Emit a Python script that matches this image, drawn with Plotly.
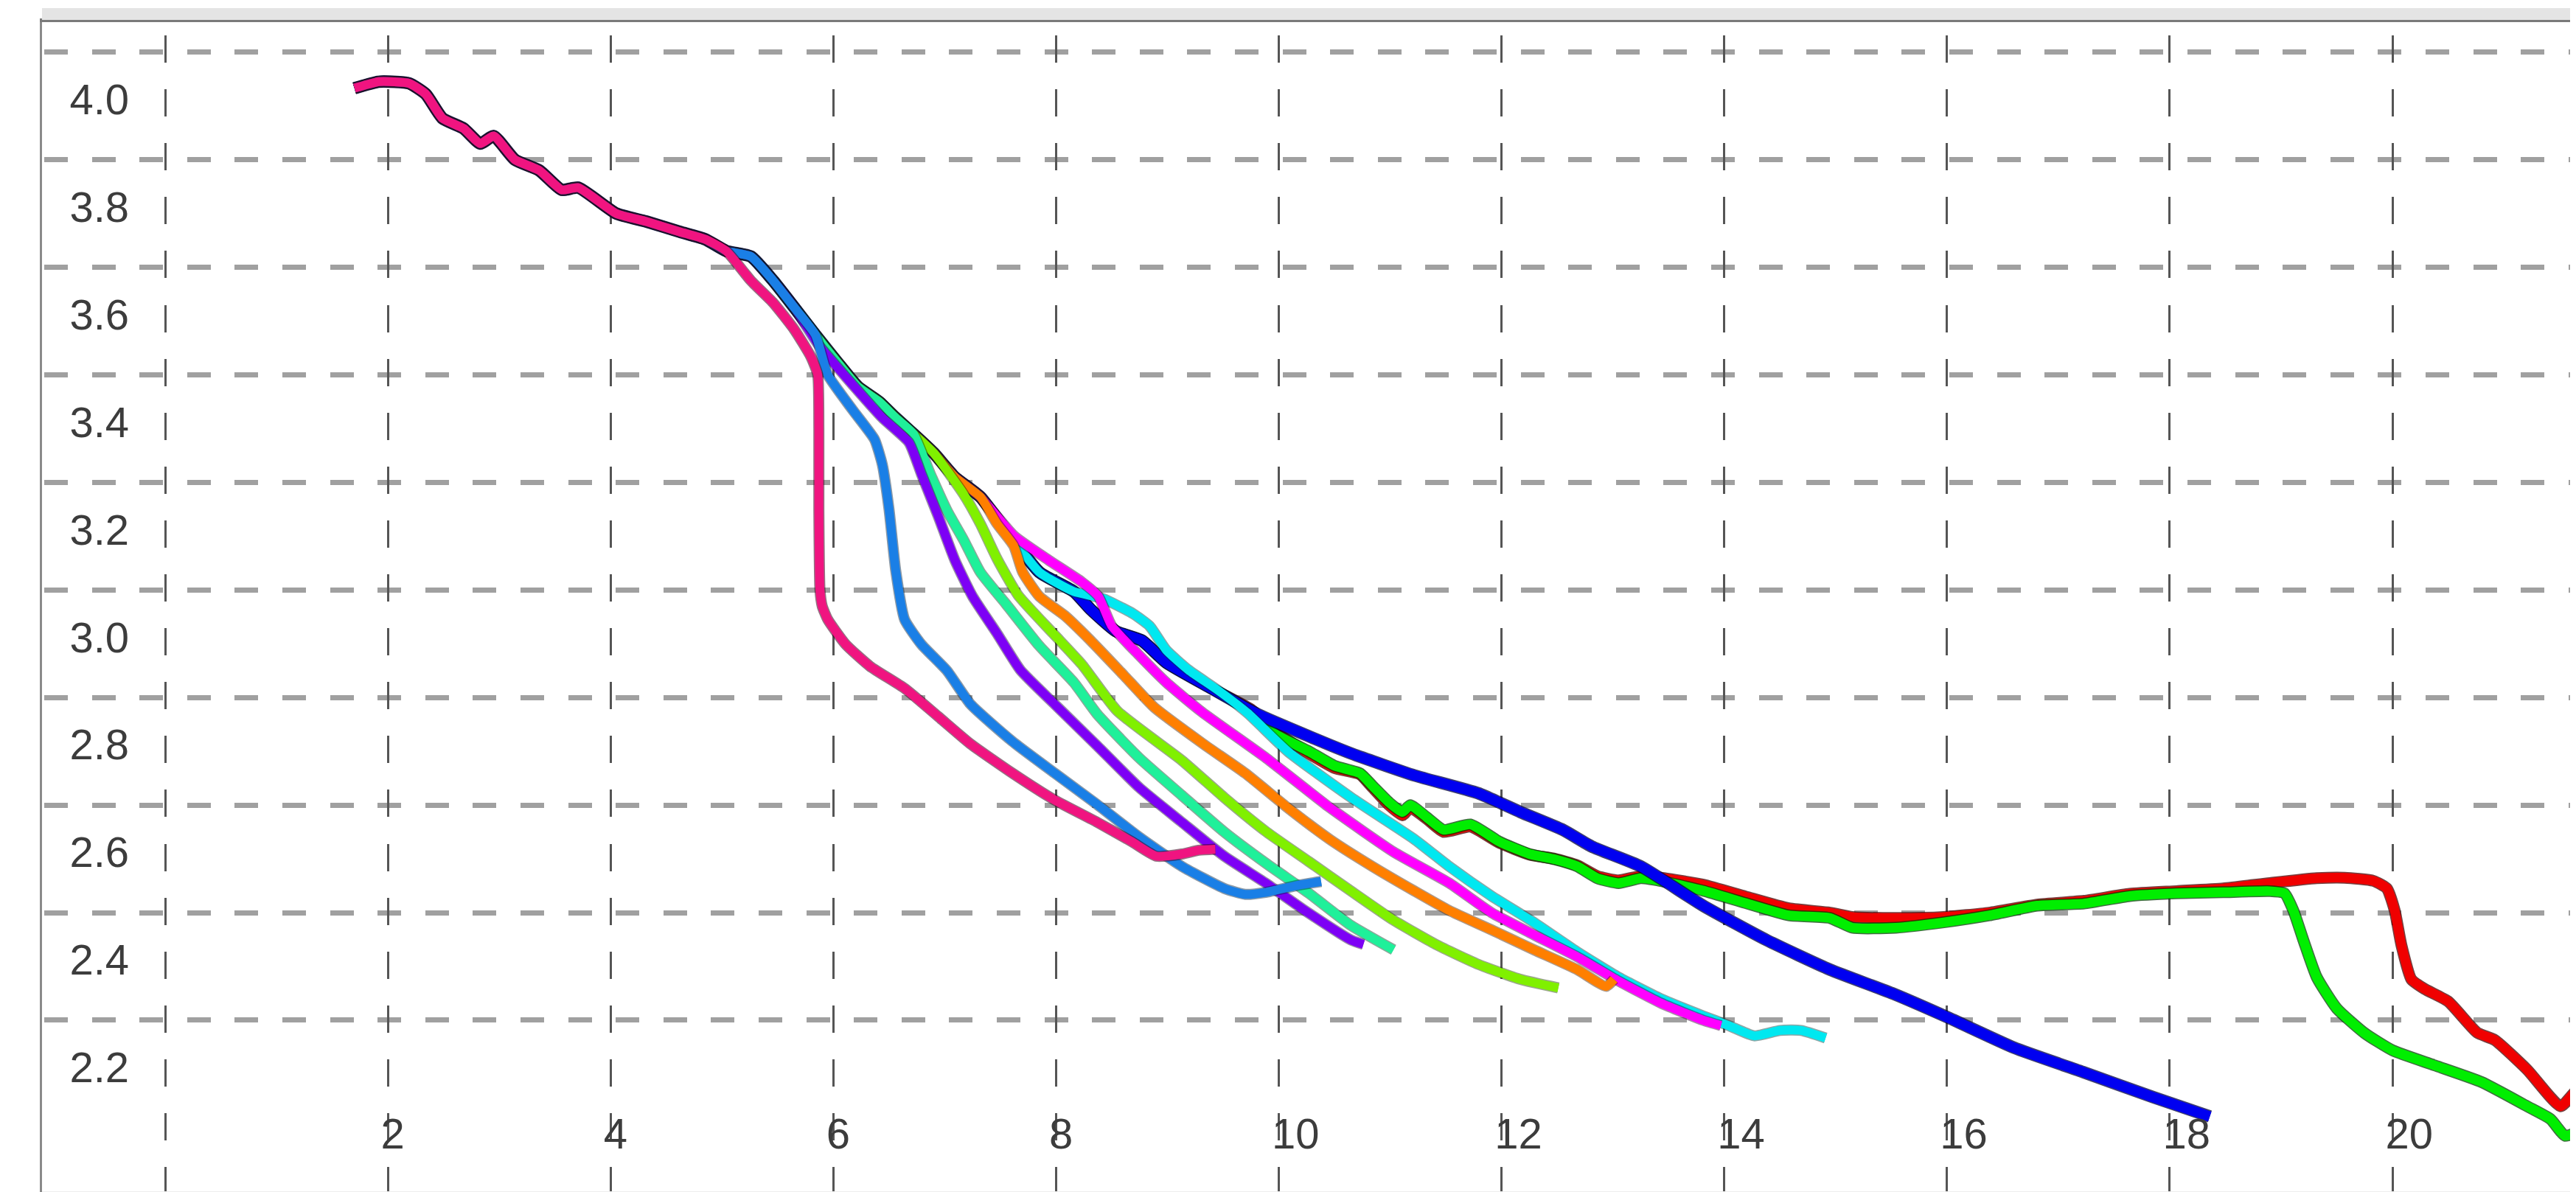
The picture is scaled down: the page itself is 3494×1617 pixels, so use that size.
import plotly.graph_objects as go

# ---------------- data ----------------
# shared start of every curve
common_x = [1.70, 1.92, 2.19, 2.34, 2.49, 2.68, 2.83, 2.95, 3.14, 3.36, 3.56, 3.71, 4.05, 4.32, 4.62, 4.85, 5.04]
common_y = [4.033, 4.045, 4.042, 4.022, 3.977, 3.958, 3.930, 3.944, 3.900, 3.880, 3.844, 3.848, 3.800, 3.785, 3.766, 3.752, 3.730]
# bundle shared by all curves except the pink one
bundle_x = [5.26, 5.46, 5.65, 5.84]
bundle_y = [3.720, 3.675, 3.625, 3.574]
# trunk shared by the later curves
trunk_x = [6.03, 6.22, 6.41, 6.56, 6.72, 6.90, 7.09, 7.32, 7.55, 7.85, 8.16, 8.31, 8.54, 8.77, 8.99, 9.37]
trunk_y = [3.525, 3.478, 3.450, 3.420, 3.390, 3.355, 3.310, 3.273, 3.211, 3.133, 3.097, 3.064, 3.023, 3.006, 2.965, 2.920]

pink_x = [5.26, 5.46, 5.65, 5.80, 5.86, 5.87, 5.87, 5.88, 5.90, 5.95, 6.11, 6.33, 6.64, 6.94, 7.23, 7.61, 7.99, 8.37, 8.68, 8.90, 9.13, 9.28, 9.43]
pink_y = [3.675, 3.634, 3.584, 3.533, 3.500, 3.400, 3.250, 3.100, 3.070, 3.045, 2.999, 2.958, 2.917, 2.865, 2.814, 2.759, 2.709, 2.668, 2.632, 2.605, 2.609, 2.616, 2.618]

azure_x = [5.95, 6.18, 6.37, 6.44, 6.50, 6.56, 6.64, 6.79, 7.02, 7.23, 7.61, 7.99, 8.37, 8.75, 9.13, 9.51, 9.70, 9.89, 10.15, 10.38]
azure_y = [3.500, 3.433, 3.380, 3.333, 3.250, 3.136, 3.045, 2.999, 2.950, 2.888, 2.818, 2.759, 2.701, 2.640, 2.586, 2.545, 2.534, 2.538, 2.550, 2.558]

violet_x = [5.87, 6.18, 6.44, 6.68, 6.79, 6.94, 7.09, 7.25, 7.47, 7.68, 7.99, 8.37, 8.75, 9.13, 9.51, 9.89, 10.27, 10.65, 10.76]
violet_y = [3.555, 3.480, 3.420, 3.374, 3.316, 3.238, 3.156, 3.088, 3.019, 2.951, 2.887, 2.810, 2.732, 2.668, 2.605, 2.554, 2.499, 2.449, 2.441]

spring_x = [6.87, 7.02, 7.17, 7.32, 7.55, 7.85, 8.16, 8.37, 8.75, 9.13, 9.51, 9.89, 10.27, 10.65, 11.03]
spring_y = [3.316, 3.248, 3.193, 3.133, 3.074, 2.996, 2.928, 2.869, 2.787, 2.718, 2.650, 2.591, 2.536, 2.476, 2.431]

chart_x = [7.17, 7.32, 7.47, 7.66, 7.97, 8.23, 8.55, 9.13, 9.51, 9.89, 10.27, 10.65, 11.03, 11.41, 11.79, 12.17, 12.51]
chart_y = [3.278, 3.223, 3.158, 3.090, 3.020, 2.962, 2.875, 2.783, 2.714, 2.650, 2.595, 2.540, 2.486, 2.441, 2.404, 2.376, 2.360]

orange_x = [7.47, 7.62, 7.70, 7.85, 8.08, 8.31, 8.61, 8.88, 9.32, 9.70, 10.08, 10.46, 10.84, 11.22, 11.53, 11.91, 12.29, 12.68, 12.94, 13.01]
orange_y = [3.223, 3.182, 3.133, 3.088, 3.052, 3.006, 2.941, 2.882, 2.814, 2.759, 2.695, 2.636, 2.586, 2.540, 2.504, 2.468, 2.431, 2.394, 2.363, 2.376]

magenta_x = [7.62, 7.93, 8.23, 8.38, 8.50, 8.73, 8.99, 9.31, 9.89, 10.46, 11.03, 11.53, 11.91, 12.29, 12.68, 13.05, 13.43, 13.81, 13.97]
magenta_y = [3.201, 3.156, 3.115, 3.088, 3.033, 2.982, 2.928, 2.873, 2.787, 2.695, 2.613, 2.555, 2.500, 2.459, 2.418, 2.373, 2.332, 2.300, 2.290]

cyan_x = [8.42, 8.69, 8.84, 8.99, 9.19, 9.45, 9.72, 10.08, 10.65, 11.22, 11.53, 11.91, 12.29, 12.68, 13.05, 13.43, 13.81, 14.04, 14.27, 14.50, 14.69, 14.91]
cyan_y = [3.084, 3.056, 3.033, 2.988, 2.951, 2.914, 2.871, 2.800, 2.714, 2.636, 2.586, 2.531, 2.482, 2.427, 2.380, 2.340, 2.308, 2.290, 2.271, 2.281, 2.281, 2.267]

blue_x = [9.81, 10.27, 10.65, 11.22, 11.79, 12.17, 12.55, 12.81, 13.25, 13.81, 14.38, 14.95, 15.52, 16.02, 16.60, 17.23, 17.85, 18.36]
blue_y = [2.869, 2.828, 2.796, 2.755, 2.722, 2.687, 2.654, 2.623, 2.586, 2.513, 2.449, 2.394, 2.349, 2.304, 2.249, 2.203, 2.157, 2.121]

green_x = [9.75, 9.97, 10.27, 10.50, 10.73, 10.84, 10.99, 11.11, 11.18, 11.33, 11.48, 11.72, 11.98, 12.25, 12.48, 12.68, 12.86, 13.05, 13.25, 13.43, 13.81, 14.19, 14.58, 14.95, 15.15, 15.54, 15.97, 16.38, 16.81, 17.23, 17.64, 18.06, 18.48, 18.90, 19.03, 19.11, 19.20, 19.32, 19.50, 19.75, 20.00, 20.38, 20.80, 21.21, 21.42, 21.55, 21.67]
green_y = [2.875, 2.832, 2.800, 2.773, 2.759, 2.736, 2.705, 2.687, 2.700, 2.677, 2.654, 2.664, 2.632, 2.609, 2.599, 2.586, 2.564, 2.555, 2.564, 2.559, 2.541, 2.518, 2.495, 2.490, 2.472, 2.472, 2.482, 2.495, 2.513, 2.517, 2.531, 2.536, 2.538, 2.540, 2.536, 2.504, 2.449, 2.380, 2.322, 2.276, 2.244, 2.216, 2.185, 2.140, 2.116, 2.085, 2.093]

red_x = [9.75, 9.97, 10.27, 10.50, 10.73, 10.84, 10.99, 11.11, 11.18, 11.33, 11.48, 11.72, 11.98, 12.25, 12.48, 12.68, 12.86, 13.05, 13.25, 13.43, 13.81, 14.19, 14.58, 14.95, 15.15, 15.54, 15.97, 16.38, 16.81, 17.23, 17.64, 18.06, 18.48, 18.90, 19.32, 19.57, 19.83, 19.95, 20.02, 20.08, 20.17, 20.29, 20.50, 20.76, 20.92, 21.21, 21.51, 21.64, 21.73]
red_y = [2.878, 2.836, 2.796, 2.769, 2.757, 2.733, 2.700, 2.681, 2.695, 2.674, 2.650, 2.660, 2.630, 2.608, 2.600, 2.588, 2.568, 2.560, 2.568, 2.565, 2.552, 2.530, 2.508, 2.500, 2.492, 2.490, 2.492, 2.500, 2.515, 2.522, 2.535, 2.540, 2.545, 2.555, 2.564, 2.565, 2.559, 2.545, 2.504, 2.440, 2.376, 2.358, 2.335, 2.277, 2.263, 2.208, 2.140, 2.167, 2.180]

# tick labels
x_tick_vals = [0, 2, 4, 6, 8, 10, 12, 14, 16, 18, 20]
x_tick_text = ["", "2", "4", "6", "8", "10", "12", "14", "16", "18", "20"]
y_tick_vals = [2.2, 2.4, 2.6, 2.8, 3.0, 3.2, 3.4, 3.6, 3.8, 4.0]
y_tick_text = ["2.2", "2.4", "2.6", "2.8", "3.0", "3.2", "3.4", "3.6", "3.8", "4.0"]
y_grid_vals = [2.1, 2.3, 2.5, 2.7, 2.9, 3.1, 3.3, 3.5, 3.7, 3.9, 4.1]

# ---------------- build ----------------
# (name, colour, edge colour, width, bundle pts, trunk pts, tail x, tail y) - drawing order bottom->top
series = [
    ("red", "#f00000", "rgba(70,0,0,0.75)", 13, 4, 16, red_x, red_y),
    ("green", "#00ee00", "rgba(0,60,0,0.75)", 13, 4, 16, green_x, green_y),
    ("blue", "#0000f0", "rgba(0,0,60,0.75)", 14, 4, 16, blue_x, blue_y),
    ("cyan", "#00e8f0", "rgba(0,60,60,0.45)", 12, 4, 11, cyan_x, cyan_y),
    ("magenta", "#ff00ff", "rgba(60,0,60,0.45)", 12, 4, 8, magenta_x, magenta_y),
    ("orange", "#ff7f00", "rgba(70,30,0,0.45)", 12, 4, 8, orange_x, orange_y),
    ("chartreuse", "#80f000", "rgba(30,60,0,0.45)", 12, 4, 6, chart_x, chart_y),
    ("spring", "#1ff09a", "rgba(0,60,30,0.45)", 12, 4, 5, spring_x, spring_y),
    ("violet", "#7d00f5", "rgba(30,0,60,0.45)", 12, 3, 0, violet_x, violet_y),
    ("azure", "#1a7fe6", "rgba(0,30,60,0.45)", 12, 4, 0, azure_x, azure_y),
    ("pink", "#f01480", "rgba(60,0,30,0.55)", 12, 0, 0, pink_x, pink_y),
]

fig = go.Figure()
for name, color, halo, width, nb, nt, tx, ty in series:
    xs = common_x + bundle_x[:nb] + trunk_x[:nt] + tx
    ys = common_y + bundle_y[:nb] + trunk_y[:nt] + ty
    fig.add_trace(go.Scatter(
        x=xs, y=ys, mode="lines", name=name + " edge",
        line=dict(color=halo, width=width + 3, shape="spline", smoothing=0.5),
        hoverinfo="skip", showlegend=False,
    ))
    fig.add_trace(go.Scatter(
        x=xs, y=ys, mode="lines", name=name,
        line=dict(color=color, width=width, shape="spline", smoothing=0.5),
        hoverinfo="skip", showlegend=False,
    ))

FONT = "Liberation Sans Narrow, Liberation Sans, Arial, sans-serif"

fig.update_layout(
    width=3494, height=1617,
    margin=dict(l=49, r=0, t=22, b=5),
    paper_bgcolor="white", plot_bgcolor="white",
    showlegend=False,
    xaxis=dict(
        range=[-1.1056, 21.701],
        tickmode="array", tickvals=x_tick_vals, ticktext=x_tick_text,
        ticks="", showgrid=True, gridcolor="#555555", gridwidth=3,
        griddash="0px,18px,37px,18.1px",
        zeroline=False, showline=True, mirror=True,
        linecolor="#7a7a7a", linewidth=5,
        ticklabelposition="inside right", ticklabelstandoff=56, ticklabelshift=-12,
        tickfont=dict(family=FONT, size=58, color="#3c3c3c"),
    ),
    yaxis=dict(
        range=[1.9765, 4.1558],
        tickmode="array", tickvals=y_tick_vals, ticktext=y_tick_text,
        ticks="", showgrid=False, zeroline=False,
        showline=True, linecolor="#8a8a8a", linewidth=3,
        ticklabelposition="inside", ticklabelstandoff=46, ticklabelshift=-9,
        tickfont=dict(family=FONT, size=58, color="#3c3c3c"),
        minor=dict(tickvals=y_grid_vals, showgrid=True, gridcolor="#a0a0a0",
                   gridwidth=7, griddash="0px,3px,32px,29.6px", ticks=""),
    ),
    shapes=[
        dict(type="rect", xref="paper", yref="paper", x0=0, x1=1,
             y0=1 + 3 / 1590, y1=1 + 19 / 1590, fillcolor="#e4e4e4",
             line=dict(width=0), layer="above"),
        dict(type="rect", xref="paper", yref="paper", x0=0, x1=1,
             y0=-5 / 1590, y1=4 / 1590, fillcolor="#ededed",
             line=dict(width=0), layer="above"),
    ],
)

fig.write_html("out.html")
